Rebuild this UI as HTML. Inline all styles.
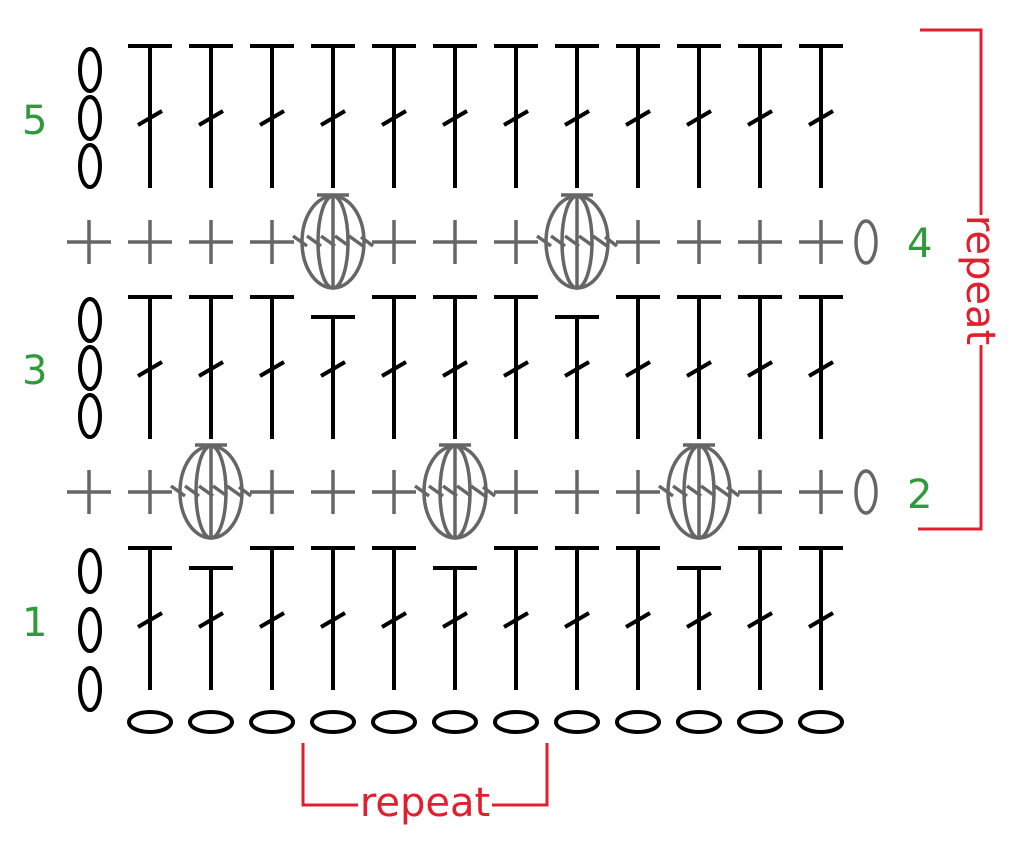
<!DOCTYPE html>
<html><head><meta charset="utf-8"><style>
html,body{margin:0;padding:0;background:#fff;width:1024px;height:841px;overflow:hidden}
svg{display:block}
text{font-family:"DejaVu Sans","Liberation Sans",sans-serif}
</style></head><body>
<svg width="1024" height="841" viewBox="0 0 1024 841" xmlns="http://www.w3.org/2000/svg">
<defs>
<g id="T" stroke="#000" stroke-width="4" fill="none"><line x1="-22" y1="0" x2="22" y2="0"/><line x1="0" y1="0" x2="0" y2="142"/><line x1="-12" y1="79" x2="12" y2="65"/></g>
<g id="S" stroke="#000" stroke-width="4" fill="none"><line x1="-22" y1="20" x2="22" y2="20"/><line x1="0" y1="20" x2="0" y2="142"/><line x1="-12" y1="79" x2="12" y2="65"/></g>
<g id="P" stroke="#666" stroke-width="3.5"><line x1="-22" y1="0" x2="22" y2="0"/><line x1="0" y1="-22" x2="0" y2="22"/></g>
<g id="F" stroke="#666" stroke-width="3.5" fill="none"><ellipse cx="0" cy="0" rx="31" ry="46"/><ellipse cx="0" cy="0" rx="15" ry="46"/><line x1="0" y1="-46" x2="0" y2="46"/><line x1="-16" y1="-47" x2="16" y2="-47"/>
<line x1="-40" y1="-6" x2="-26" y2="4"/><line x1="-26" y1="-6" x2="-12" y2="4"/><line x1="-12" y1="-6" x2="2" y2="4"/><line x1="2" y1="-6" x2="16" y2="4"/><line x1="16" y1="-6" x2="30" y2="4"/><line x1="28" y1="-5" x2="40" y2="4"/></g>
<ellipse id="V" cx="0" cy="0" rx="10" ry="21" stroke="#000" stroke-width="4" fill="none"/>
<ellipse id="H" cx="0" cy="0" rx="21" ry="10" stroke="#000" stroke-width="4" fill="none"/>
</defs>
<use href="#V" x="90" y="70"/><use href="#V" x="90" y="118"/><use href="#V" x="90" y="166"/>
<use href="#T" x="150" y="46"/><use href="#T" x="211" y="46"/><use href="#T" x="272" y="46"/><use href="#T" x="333" y="46"/><use href="#T" x="394" y="46"/><use href="#T" x="455" y="46"/><use href="#T" x="516" y="46"/><use href="#T" x="577" y="46"/><use href="#T" x="638" y="46"/><use href="#T" x="699" y="46"/><use href="#T" x="760" y="46"/><use href="#T" x="821" y="46"/>
<use href="#P" x="89" y="242"/><use href="#P" x="150" y="242"/><use href="#P" x="211" y="242"/><use href="#P" x="272" y="242"/><use href="#F" x="333" y="242"/><use href="#P" x="394" y="242"/><use href="#P" x="455" y="242"/><use href="#P" x="516" y="242"/><use href="#F" x="577" y="242"/><use href="#P" x="638" y="242"/><use href="#P" x="699" y="242"/><use href="#P" x="760" y="242"/><use href="#P" x="821" y="242"/>
<ellipse cx="866" cy="242" rx="10" ry="21" stroke="#666" stroke-width="3.5" fill="none"/>
<use href="#V" x="90" y="320"/><use href="#V" x="90" y="368"/><use href="#V" x="90" y="416"/>
<use href="#T" x="150" y="297"/><use href="#T" x="211" y="297"/><use href="#T" x="272" y="297"/><use href="#S" x="333" y="297"/><use href="#T" x="394" y="297"/><use href="#T" x="455" y="297"/><use href="#T" x="516" y="297"/><use href="#S" x="577" y="297"/><use href="#T" x="638" y="297"/><use href="#T" x="699" y="297"/><use href="#T" x="760" y="297"/><use href="#T" x="821" y="297"/>
<use href="#P" x="89" y="492"/><use href="#P" x="150" y="492"/><use href="#F" x="211" y="492"/><use href="#P" x="272" y="492"/><use href="#P" x="333" y="492"/><use href="#P" x="394" y="492"/><use href="#F" x="455" y="492"/><use href="#P" x="516" y="492"/><use href="#P" x="577" y="492"/><use href="#P" x="638" y="492"/><use href="#F" x="699" y="492"/><use href="#P" x="760" y="492"/><use href="#P" x="821" y="492"/>
<ellipse cx="866" cy="492" rx="10" ry="21" stroke="#666" stroke-width="3.5" fill="none"/>
<use href="#V" x="90" y="571"/><use href="#V" x="90" y="630"/><use href="#V" x="90" y="689"/>
<use href="#T" x="150" y="548"/><use href="#S" x="211" y="548"/><use href="#T" x="272" y="548"/><use href="#T" x="333" y="548"/><use href="#T" x="394" y="548"/><use href="#S" x="455" y="548"/><use href="#T" x="516" y="548"/><use href="#T" x="577" y="548"/><use href="#T" x="638" y="548"/><use href="#S" x="699" y="548"/><use href="#T" x="760" y="548"/><use href="#T" x="821" y="548"/>
<use href="#H" x="150" y="722"/><use href="#H" x="211" y="722"/><use href="#H" x="272" y="722"/><use href="#H" x="333" y="722"/><use href="#H" x="394" y="722"/><use href="#H" x="455" y="722"/><use href="#H" x="516" y="722"/><use href="#H" x="577" y="722"/><use href="#H" x="638" y="722"/><use href="#H" x="699" y="722"/><use href="#H" x="760" y="722"/><use href="#H" x="821" y="722"/>
<g fill="#2e9a3a" font-size="40">
<text x="22" y="134">5</text><text x="22" y="384">3</text><text x="22" y="636">1</text><text x="907" y="257">4</text><text x="907" y="508">2</text>
</g>
<g stroke="#e0202e" stroke-width="3" fill="none">
<polyline points="920,30 981,30 981,215"/><polyline points="981,345 981,529 918,529"/>
<polyline points="303,743 303,805 358,805"/><polyline points="492,805 547,805 547,743"/>
</g>
<text x="425" y="816" fill="#e0202e" font-size="40" text-anchor="middle">repeat</text>
<text transform="translate(967,280) rotate(90)" fill="#e0202e" font-size="40" text-anchor="middle">repeat</text>
</svg>
</body></html>
